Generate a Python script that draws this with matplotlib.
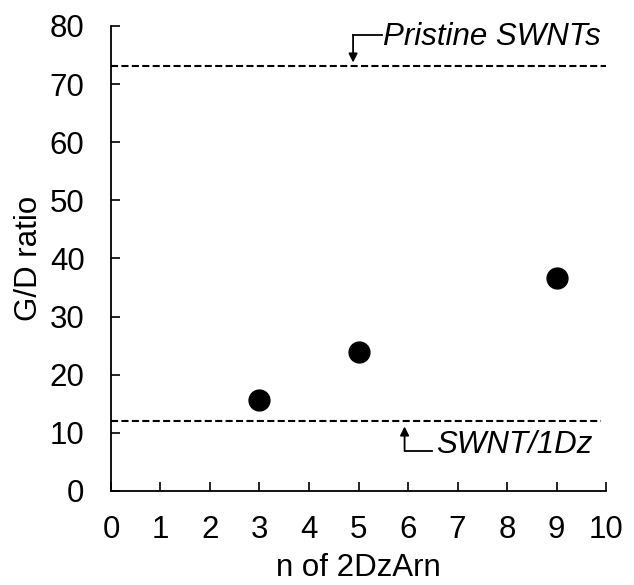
import matplotlib
matplotlib.use("Agg")
import matplotlib.pyplot as plt

plt.rcParams['font.family'] = ['Liberation Sans', 'DejaVu Sans']

n_values = [3, 5, 9]
gd_ratio = [15.7, 23.9, 36.6]
pristine_level = 73.1
swnt1dz_level = 12.0
x_ticks = list(range(0, 11))
y_ticks = list(range(0, 81, 10))

FS = 22.5

fig = plt.figure(figsize=(6.34, 5.85), dpi=100)
ax = fig.add_axes([0.175, 0.1607, 0.781, 0.795])

ax.plot(n_values, gd_ratio, 'o', color='black', markersize=15, zorder=3)
ax.plot([0, 10], [pristine_level, pristine_level], color='black', lw=1.5,
        dashes=(3.4, 1.6), clip_on=False)
ax.plot([0, 9.9], [swnt1dz_level, swnt1dz_level], color='black', lw=1.5,
        dashes=(3.4, 1.6), clip_on=False)

# Pristine SWNTs annotation
ax.plot([4.89, 5.47], [78.4, 78.4], color='black', lw=1.3, clip_on=False)
ax.annotate('', xy=(4.89, pristine_level + 0.6), xytext=(4.89, 78.45),
            arrowprops=dict(arrowstyle='-|>', color='black', lw=1.3,
                            mutation_scale=13, shrinkA=0, shrinkB=0),
            annotation_clip=False)
ax.text(5.5, 78.1, 'Pristine SWNTs', fontsize=FS, fontstyle='italic',
        ha='left', va='center')

# SWNT/1Dz annotation
ax.plot([5.93, 6.49], [6.95, 6.95], color='black', lw=1.3, clip_on=False)
ax.annotate('', xy=(5.93, swnt1dz_level - 0.9), xytext=(5.93, 6.9),
            arrowprops=dict(arrowstyle='-|>', color='black', lw=1.3,
                            mutation_scale=13, shrinkA=0, shrinkB=0),
            annotation_clip=False)
ax.text(6.56, 7.95, 'SWNT/1Dz', fontsize=FS, fontstyle='italic',
        ha='left', va='center')

ax.set_xlim(0, 10)
ax.set_ylim(0, 80)
ax.set_xticks(x_ticks)
ax.set_yticks(y_ticks)
ax.tick_params(direction='in', length=6.5, width=1.2, labelsize=FS)
ax.tick_params(axis='x', pad=17)
ax.tick_params(axis='y', pad=19)
ax.spines['top'].set_visible(False)
ax.spines['right'].set_visible(False)
ax.spines['left'].set_linewidth(1.3)
ax.spines['bottom'].set_linewidth(1.3)
ax.set_xlabel('n of 2DzArn', fontsize=FS, labelpad=6)
ax.set_ylabel('G/D ratio', fontsize=FS, labelpad=4)

fig.savefig('out.png', dpi=100)
